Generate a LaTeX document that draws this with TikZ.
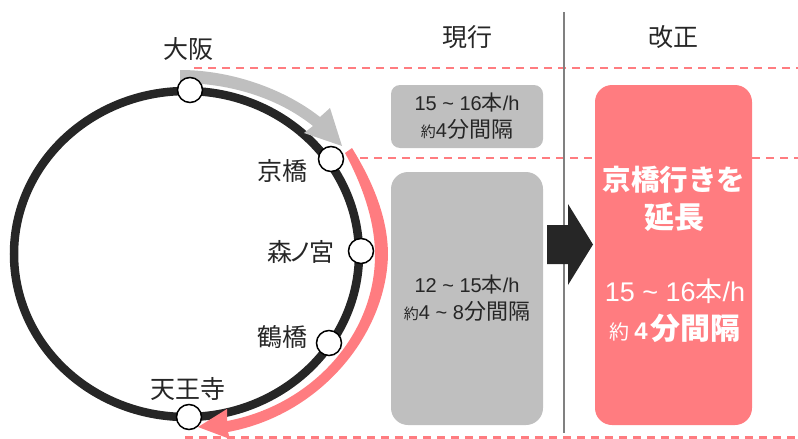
\documentclass[tikz,border=0pt]{standalone}
\usepackage{xcolor}
\usepackage{fontspec}
\setmainfont{Noto Sans CJK JP}
\newfontfamily\latfont{Liberation Sans}
\definecolor{linedark}{HTML}{262626}
\definecolor{boxgray}{HTML}{BFBFBF}
\definecolor{boxpink}{HTML}{FF7C80}
\newcommand{\fsize}[1]{\fontsize{#1}{#1}\selectfont}
\tikzset{
    station/.style={circle,draw=black,line width=1.5pt,fill=white,minimum size=25pt,inner sep=0pt},
    stationlabel/.style={inner sep=0pt,text=linedark,font=\fsize{25}},
    guide/.style={draw=boxpink,line width=1.5pt,dash pattern=on 8pt off 6pt},
    headlabel/.style={inner sep=0pt,text=linedark,font=\fsize{25}},
    timebox/.style={fill=boxgray,inner sep=0pt,text=linedark,align=center},
    newbox/.style={fill=boxpink,inner sep=0pt,text=white,align=center}
}
\begin{document}
\begin{tikzpicture}[x=1pt,y=-1pt]
    \useasboundingbox (0,0) rectangle (798,439);

    \node[minimum size=0pt,inner sep=0pt] (ringc) at (186.5,254) {};
    \draw[guide] (194,68) -- (798,68);
    \draw[guide] (360,158) -- (798,158);
    \draw[guide,line width=2.5pt] (185,437.5) -- (798,437.5);
    \draw[draw=gray,line width=2pt] (564,12) -- (564,433);

    \draw[draw=linedark,line width=8.5pt] (ringc) ellipse (172.5 and 163);

    \fill[boxgray] (180,70) .. controls (230,70) and (283,88) .. (320,117) -- (330,108) -- (342,146)
        -- (304,133) -- (313,126) .. controls (278,98) and (230,83) .. (180,83) -- cycle;
    \fill[boxpink] (352,148) .. controls (378,190) and (388,225) .. (388,255)
        .. controls (386,335) and (320,415) .. (228,432) -- (230,439) -- (198,427) -- (227,409)
        -- (227,421) .. controls (312,405) and (375,335) .. (375,255)
        .. controls (375,225) and (365,190) .. (345,153) -- cycle;

    \node[station] (osaka) at (190,90) {};
    \node[station] (kyobashi) at (331,159) {};
    \node[station] (morinomiya) at (361,251) {};
    \node[station] (tsuruhashi) at (329,343) {};
    \node[station] (tennoji) at (189,417) {};

    \node[stationlabel] (osakalabel) at (188.5,49) {大阪};
    \node[stationlabel] (kyobashilabel) at (282.5,171) {京橋};
    \node[stationlabel] (morinomiyalabel) at (300.5,252) {森\hspace{-4pt}ノ\hspace{-4pt}宮};
    \node[stationlabel] (tsuruhashilabel) at (282,337) {鶴橋};
    \node[stationlabel] (tennojilabel) at (187.5,389) {天王寺};

    \node[headlabel] (current) at (467.5,37) {現行};
    \node[headlabel] (revised) at (673,37) {改正};

    \node[timebox,rounded corners=9pt,minimum width=152pt,minimum height=63pt] (peak) at (467,116.5)
        {{\fsize{20}\latfont 15 \textasciitilde{} 16}{\fsize{21}本}{\fsize{20}\latfont /h}\\[6pt]{\fsize{15}約}{\fsize{20}\latfont 4}{\fsize{22}分間隔}};
    \node[timebox,rounded corners=17pt,minimum width=152pt,minimum height=253pt] (offpeak) at (467,298.5)
        {{\fsize{20}\latfont 12 \textasciitilde{} 15}{\fsize{21}本}{\fsize{20}\latfont /h}\\[6pt]{\fsize{15}約}{\fsize{20}\latfont 4 \textasciitilde{} 8}{\fsize{22}分間隔}};
    \node[newbox,rounded corners=17pt,minimum width=157pt,minimum height=340pt] (newtime) at (673.5,255) {};
    \node[inner sep=0pt,text=white,align=center,font=\bfseries] (extend) at (674,199)
        {\fsize{28.5}京橋行きを\\[9pt]\fsize{30}延長};
    \node[inner sep=0pt,text=white,align=center] (newrate) at (675,311)
        {{\fsize{27}\latfont 15 \textasciitilde{} 16}{\fsize{27}本}{\fsize{27}\latfont /h}\\[9pt]{\fsize{20}約}\hspace{5pt}{\bfseries\fsize{24}\latfont 4}\hspace{3pt}{\bfseries\fsize{30}分間隔}};

    \fill[linedark] (547,225) -- (568,225) -- (568,204) -- (593,244.5) -- (568,285) -- (568,264) -- (547,264) -- cycle;
\end{tikzpicture}
\end{document}
